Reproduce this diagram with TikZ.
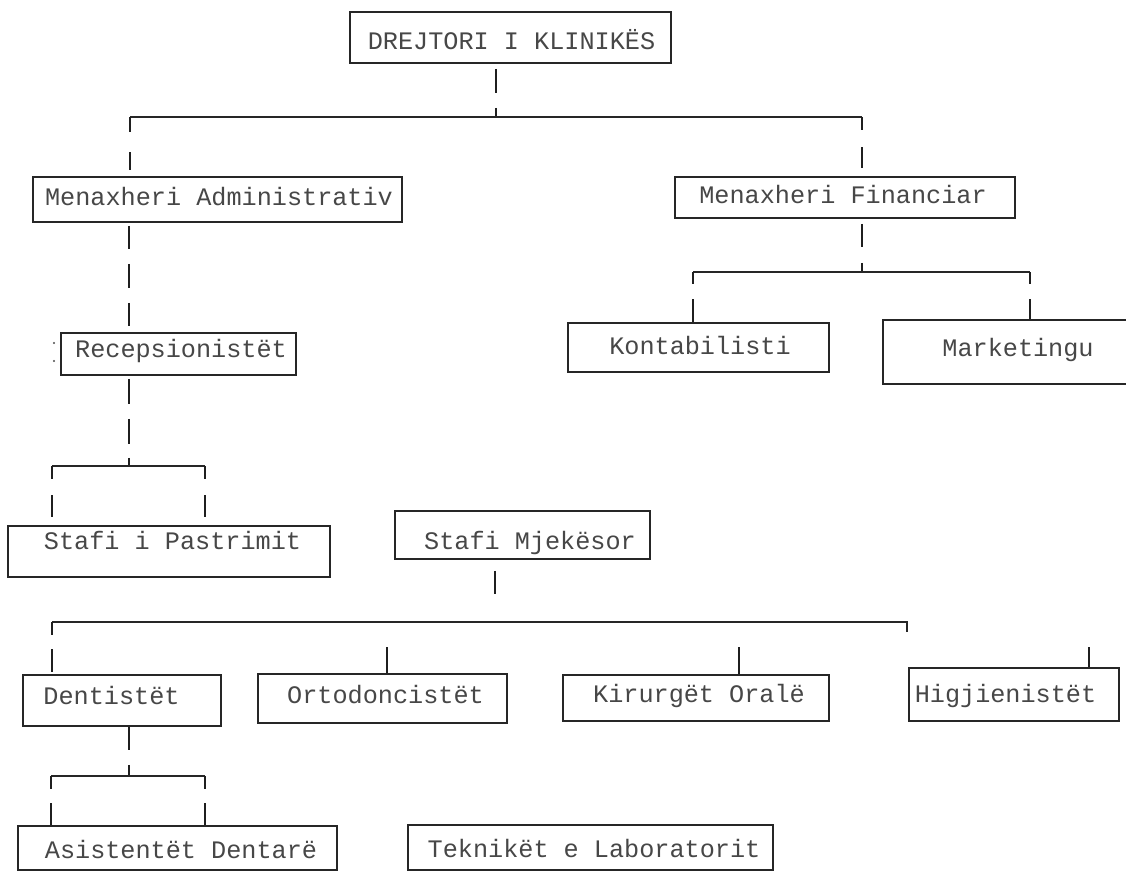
\documentclass[tikz,border=0pt]{standalone}
\usepackage{fontspec}
\newfontfamily\boxfont{Liberation Mono}
\begin{document}
\begin{tikzpicture}[x=1pt,y=-1pt,
  box/.style={draw=black!85,line width=1.8pt,inner sep=0pt,rectangle},
  txt/.style={font=\boxfont\fontsize{25.2}{30}\selectfont,text=black!72,inner sep=0pt,text height=15pt,text depth=0pt},
  stem/.style={draw=black!88,line width=2pt},
  bar/.style={draw=black!85,line width=1.4pt}]
\useasboundingbox (0,0) rectangle (1126,872);
% boxes
\node[box,minimum width=321pt,minimum height=51pt] (dir) at (510.5,37.5) {};
\node[box,minimum width=369pt,minimum height=45pt] (adm) at (217.5,199.5) {};
\node[box,minimum width=340pt,minimum height=41pt] (fin) at (845,197.5) {};
\node[box,minimum width=235pt,minimum height=42pt] (rec) at (178.5,354) {};
\node[box,minimum width=261pt,minimum height=49pt] (kon) at (698.5,347.5) {};
\node[box,minimum width=270pt,minimum height=64pt] (mkt) at (1018,352) {};
\node[box,minimum width=322pt,minimum height=51pt] (pas) at (169,551.5) {};
\node[box,minimum width=255pt,minimum height=48pt] (mje) at (522.5,535) {};
\node[box,minimum width=198pt,minimum height=51pt] (den) at (122,700.5) {};
\node[box,minimum width=249pt,minimum height=49pt] (ort) at (382.5,698.5) {};
\node[box,minimum width=266pt,minimum height=46pt] (kir) at (696,698) {};
\node[box,minimum width=210pt,minimum height=53pt] (hig) at (1014,694.5) {};
\node[box,minimum width=319pt,minimum height=44pt] (asi) at (177.5,848) {};
\node[box,minimum width=365pt,minimum height=45pt] (tek) at (590.5,847.5) {};
% texts
\node[txt] (dir-t) at (511.5,42.5) {DREJTORI I KLINIKËS};
\node[txt] (adm-t) at (219,198) {Menaxheri Administrativ};
\node[txt] (fin-t) at (843,196) {Menaxheri Financiar};
\node[txt] (rec-t) at (181,350) {Recepsionistët};
\node[txt] (kon-t) at (700,347) {Kontabilisti};
\node[txt] (mkt-t) at (1018,349) {Marketingu};
\node[txt] (pas-t) at (172.5,541.5) {Stafi i Pastrimit};
\node[txt] (mje-t) at (530,541.5) {Stafi Mjekësor};
\node[txt] (den-t) at (111.5,697) {Dentistët};
\node[txt] (ort-t) at (385.5,695.5) {Ortodoncistët};
\node[txt] (kir-t) at (699,694.5) {Kirurgët Oralë};
\node[txt] (hig-t) at (1005.5,695) {Higjienistët};
\node[txt] (asi-t) at (181,851) {Asistentët Dentarë};
\node[txt] (tek-t) at (594,850) {Teknikët e Laboratorit};
% stray dots
\fill[black!70] (54,343) circle (1.2);
\fill[black!70] (54,361) circle (1.2);
% coordinates
\coordinate (b1) at (496,117); \coordinate (b1L) at (130,117); \coordinate (b1R) at (862,117);
\coordinate (ax) at (129,0);
\coordinate (b2) at (129,466); \coordinate (b2L) at (52,466); \coordinate (b2R) at (205,466);
\coordinate (b3) at (862,272); \coordinate (b3L) at (693,272); \coordinate (b3R) at (1030,272);
\coordinate (b4) at (495,622); \coordinate (b4L) at (52,622); \coordinate (b4R) at (907,622); \coordinate (b4E) at (907,632);
\coordinate (t1) at (387,647); \coordinate (t2) at (739,647); \coordinate (t3) at (1089,647);
\coordinate (b5) at (129,776); \coordinate (b5L) at (51,776); \coordinate (b5R) at (205,776);
% level 1
\draw[stem,dash pattern=on 0pt off 5pt on 24pt off 15pt on 30pt] (dir.south -| b1) -- (b1);
\draw[bar] (b1L) -- (b1R);
\draw[stem,dash pattern=on 15pt off 20pt on 18pt off 20pt] (b1L) -- (adm.north -| b1L);
\draw[stem,dash pattern=on 13pt off 17pt on 21pt off 20pt] (b1R) -- (fin.north -| b1R);
% admin branch
\draw[stem,dash pattern=on 0pt off 3pt on 23pt off 15pt on 24pt off 15pt on 23pt off 20pt] (adm.south -| ax) -- (rec.north -| ax);
\draw[stem,dash pattern=on 0pt off 3pt on 25pt off 15pt on 25pt off 14pt on 20pt] (rec.south -| b2) -- (b2);
\draw[bar] (b2L) -- (b2R);
\draw[stem,dash pattern=on 13pt off 16pt on 22pt off 20pt] (b2L) -- (pas.north -| b2L);
\draw[stem,dash pattern=on 13pt off 16pt on 22pt off 20pt] (b2R) -- (pas.north -| b2R);
% finance branch
\draw[stem,dash pattern=on 0pt off 5pt on 23pt off 16pt on 20pt] (fin.south -| b3) -- (b3);
\draw[bar] (b3L) -- (b3R);
\draw[stem,dash pattern=on 12pt off 15pt on 30pt] (b3L) -- (kon.north -| b3L);
\draw[stem,dash pattern=on 12pt off 15pt on 30pt] (b3R) -- (mkt.north -| b3R);
% medical branch
\draw[stem,dash pattern=on 0pt off 11pt on 23pt off 40pt] (mje.south -| b4) -- (b4);
\draw[bar] (b4L) -- (b4R) -- (b4E);
\draw[stem,dash pattern=on 13pt off 14pt on 23pt off 10pt] (b4L) -- (den.north -| b4L);
\draw[stem] (t1) -- (ort.north -| t1);
\draw[stem] (t2) -- (kir.north -| t2);
\draw[stem] (t3) -- (hig.north -| t3);
% dentist branch
\draw[stem,dash pattern=on 23pt off 15pt on 30pt] (den.south -| b5) -- (b5);
\draw[bar] (b5L) -- (b5R);
\draw[stem,dash pattern=on 13pt off 14pt on 30pt] (b5L) -- (asi.north -| b5L);
\draw[stem,dash pattern=on 13pt off 14pt on 30pt] (b5R) -- (asi.north -| b5R);
\end{tikzpicture}
\end{document}
